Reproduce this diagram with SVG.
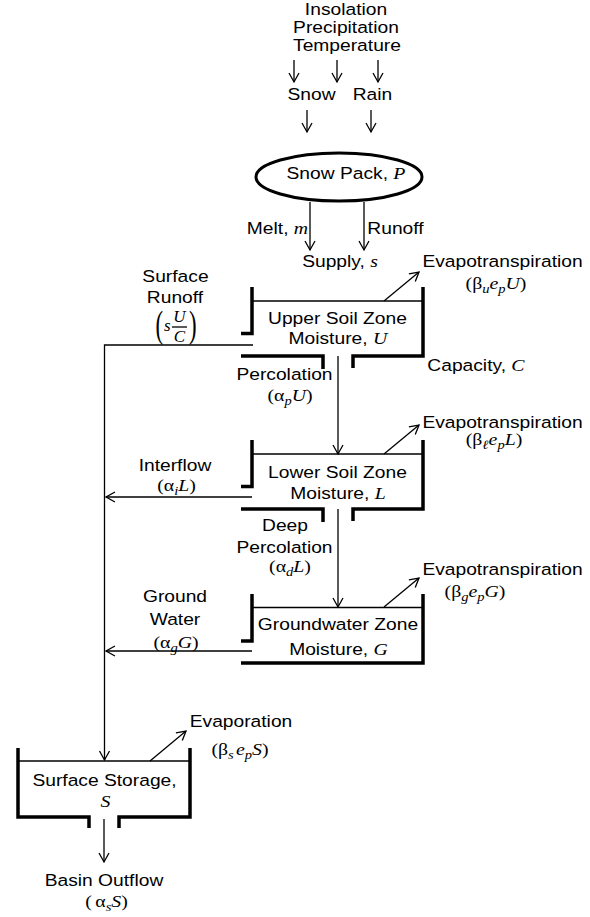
<svg xmlns="http://www.w3.org/2000/svg" width="590" height="917" viewBox="0 0 590 917">
<defs>
<style>
.t{font-family:"Liberation Sans",Arial,Helvetica,sans-serif;font-size:16.5px;fill:#000;text-anchor:middle;transform-box:fill-box;transform-origin:center;transform:scaleX(1.165)}
.i{font-family:"Liberation Serif","Times New Roman",serif;font-style:italic;font-size:17px}
.r{font-family:"Liberation Serif","Times New Roman",serif;font-style:normal;font-size:17px}
.sb{font-size:12.5px}
.wall{fill:none;stroke:#000;stroke-width:3.5;stroke-linejoin:miter}
.thin{fill:none;stroke:#000;stroke-width:1.3}
.arr{fill:none;stroke:#000;stroke-width:1.3;marker-end:url(#ah)}
.par{font-family:"Liberation Serif","Times New Roman",serif;font-size:38px;fill:#000}
</style>
<marker id="ah" viewBox="-11 -7 13 14" refX="0" refY="0" markerWidth="13" markerHeight="14" markerUnits="userSpaceOnUse" orient="auto">
<path d="M-9,-5 L0,0 L-9,5" fill="none" stroke="#000" stroke-width="1.3"/>
</marker>
</defs>
<rect width="590" height="917" fill="#fff"/>

<g id="connectors">
<path class="arr" d="M294,60 V82"/>
<path class="arr" d="M337,60 V82"/>
<path class="arr" d="M378,60 V82"/>
<path class="arr" d="M307,110 V132"/>
<path class="arr" d="M371,110 V132"/>
<path class="arr" d="M310,202 V250"/>
<path class="arr" d="M364,202 V250"/>
<path class="arr" d="M384,301 L419,272"/>
<path class="arr" d="M384,454 L419,425"/>
<path class="arr" d="M384,607 L419,578"/>
<path class="arr" d="M150,761 L186,731"/>
<path class="arr" d="M338,356 V454"/>
<path class="arr" d="M338,509 V607"/>
<path class="arr" d="M253,345 H104.5 V760"/>
<path class="arr" d="M252,497 H106"/>
<path class="arr" d="M252,651 H106"/>
<path class="arr" d="M104,819 V862"/>
</g>

<g id="inputs">
<text class="t" x="346" y="15">Insolation</text>
<text class="t" x="346" y="33">Precipitation</text>
<text class="t" x="347" y="51">Temperature</text>
</g>
<g id="snow"><text class="t" x="311.5" y="100">Snow</text></g>
<g id="rain"><text class="t" x="372.5" y="100">Rain</text></g>

<g id="snowpack">
<ellipse cx="339" cy="177" rx="83" ry="24" fill="none" stroke="#000" stroke-width="3"/>
<text class="t" x="346" y="179">Snow Pack, <tspan class="i">P</tspan></text>
</g>

<g id="melt-label"><text class="t" x="277.5" y="234">Melt, <tspan class="i">m</tspan></text></g>
<g id="runoff-label"><text class="t" x="395.5" y="234">Runoff</text></g>
<g id="supply"><text class="t" x="340" y="267">Supply, <tspan class="i">s</tspan></text></g>

<g id="upper-soil">
<path class="wall" d="M252,287 V333.5 H241"/>
<path class="wall" d="M241,356 H323 V369"/>
<path class="wall" d="M353,368 V356 H423 V287"/>
<path class="thin" d="M253,301 H422"/>
<text class="t" x="337.5" y="324">Upper Soil Zone</text>
<text class="t" x="338" y="344">Moisture, <tspan class="i">U</tspan></text>
</g>
<g id="capacity"><text class="t" x="476" y="371">Capacity, <tspan class="i">C</tspan></text></g>

<g id="evap-upper">
<text class="t" x="502.5" y="267">Evapotranspiration</text>
<text class="t" x="496" y="289"><tspan class="r">(β</tspan><tspan class="i sb" dy="4">u</tspan><tspan class="i" dy="-4">e</tspan><tspan class="i sb" dy="4">p</tspan><tspan class="i" dy="-4">U</tspan><tspan class="r">)</tspan></text>
</g>

<g id="surface-runoff">
<text class="t" x="175.5" y="282">Surface</text>
<text class="t" x="175" y="303">Runoff</text>
<text class="par" transform="translate(155.5,337) scale(0.6,1)" x="0" y="0">(</text>
<text class="i" x="164" y="331">s</text>
<text class="i" x="179.5" y="322" text-anchor="middle">U</text>
<path class="thin" d="M172,327 H187" stroke-width="1"/>
<text class="i" x="179.5" y="342" text-anchor="middle">C</text>
<text class="par" transform="translate(189,337) scale(0.6,1)" x="0" y="0">)</text>
</g>

<g id="percolation">
<text class="t" x="284.5" y="380">Percolation</text>
<text class="t" x="290" y="401"><tspan class="r">(α</tspan><tspan class="i sb" dy="4">p</tspan><tspan class="i" dy="-4">U</tspan><tspan class="r">)</tspan></text>
</g>

<g id="lower-soil">
<path class="wall" d="M252,440 V486.5 H241"/>
<path class="wall" d="M241,509 H323 V522"/>
<path class="wall" d="M353,521 V509 H423 V440"/>
<path class="thin" d="M253,454 H422"/>
<text class="t" x="337.5" y="478">Lower Soil Zone</text>
<text class="t" x="338" y="499">Moisture, <tspan class="i">L</tspan></text>
</g>

<g id="evap-lower">
<text class="t" x="502.5" y="428">Evapotranspiration</text>
<text class="t" x="494" y="445"><tspan class="r">(β</tspan><tspan class="i sb" dy="4" font-weight="bold">ℓ</tspan><tspan class="i" dy="-4">e</tspan><tspan class="i sb" dy="4">p</tspan><tspan class="i" dy="-4">L</tspan><tspan class="r">)</tspan></text>
</g>

<g id="interflow">
<text class="t" x="175" y="471">Interflow</text>
<text class="t" x="176.5" y="491"><tspan class="r">(α</tspan><tspan class="i sb" dy="4">i</tspan><tspan class="i" dy="-4">L</tspan><tspan class="r">)</tspan></text>
</g>

<g id="deep-percolation">
<text class="t" x="285" y="531">Deep</text>
<text class="t" x="284.5" y="553">Percolation</text>
<text class="t" x="290" y="572"><tspan class="r">(α</tspan><tspan class="i sb" dy="4">d</tspan><tspan class="i" dy="-4">L</tspan><tspan class="r">)</tspan></text>
</g>

<g id="groundwater">
<path class="wall" d="M252,594 V641 H241"/>
<path class="wall" d="M241,663 H423 V594"/>
<path class="thin" d="M253,607.5 H422"/>
<text class="t" x="338" y="630">Groundwater Zone</text>
<text class="t" x="338.5" y="655">Moisture, <tspan class="i">G</tspan></text>
</g>

<g id="evap-ground">
<text class="t" x="502.5" y="575">Evapotranspiration</text>
<text class="t" x="475" y="597"><tspan class="r">(β</tspan><tspan class="i sb" dy="4">g</tspan><tspan class="i" dy="-4">e</tspan><tspan class="i sb" dy="4">p</tspan><tspan class="i" dy="-4">G</tspan><tspan class="r">)</tspan></text>
</g>

<g id="ground-water-flow">
<text class="t" x="175" y="602">Ground</text>
<text class="t" x="175" y="625">Water</text>
<text class="t" x="176" y="648"><tspan class="r">(α</tspan><tspan class="i sb" dy="4">g</tspan><tspan class="i" dy="-4">G</tspan><tspan class="r">)</tspan></text>
</g>

<g id="surface-storage">
<path class="wall" d="M18,748 V817 H89 V828"/>
<path class="wall" d="M119,828 V817 H190 V748"/>
<path class="thin" d="M19,761 H189"/>
<text class="t" x="104.5" y="786">Surface Storage,</text>
<text class="t" x="105.5" y="807"><tspan class="i">S</tspan></text>
</g>

<g id="evaporation">
<text class="t" x="241" y="727">Evaporation</text>
<text class="t" x="240" y="755"><tspan class="r">(β</tspan><tspan class="i sb" dy="4">s</tspan><tspan class="i" dy="-4" dx="2">e</tspan><tspan class="i sb" dy="4">p</tspan><tspan class="i" dy="-4">S</tspan><tspan class="r">)</tspan></text>
</g>

<g id="basin-outflow">
<text class="t" x="104" y="886">Basin Outflow</text>
<text class="t" x="106.5" y="907"><tspan class="r">(</tspan><tspan class="r" dx="3">α</tspan><tspan class="i sb" dy="4">s</tspan><tspan class="i" dy="-4">S</tspan><tspan class="r">)</tspan></text>
</g>
</svg>
